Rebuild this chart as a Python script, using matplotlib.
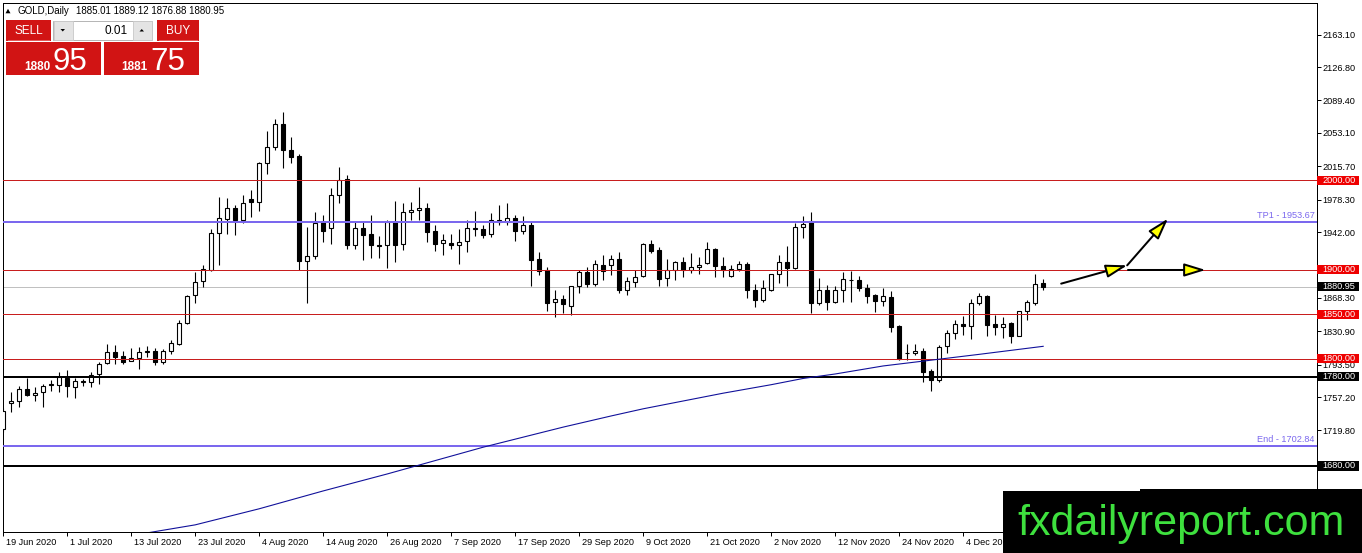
import matplotlib
matplotlib.use("Agg")
import numpy as np
import matplotlib.pyplot as plt
import matplotlib.transforms as mtrans
from matplotlib.patches import Rectangle, Polygon, FancyArrowPatch

plt.rcParams['font.family'] = ['Liberation Sans', 'DejaVu Sans']

# データ -------------------------
# GOLD daily, 19 Jun 2020 - 18 Dec 2020
opens = [1721, 1750, 1753, 1766, 1760, 1763, 1771, 1771, 1778, 1768,
         1774, 1774, 1783, 1795, 1807.5, 1803, 1797.5, 1801, 1808, 1809,
         1796, 1809, 1817, 1840, 1871, 1887, 1900, 1941, 1957, 1969,
         1955, 1979, 1976, 2019, 2037, 2063, 2034, 2027, 1910, 1915,
         1953, 1946, 1984, 2001, 1927, 1946, 1940, 1928, 1927, 1953,
         1929, 1964.5, 1967, 1969, 1943, 1930, 1930, 1928, 1932, 1945,
         1945, 1940, 1953, 1953, 1958, 1943, 1950, 1912, 1900, 1864,
         1867, 1859, 1881, 1897, 1884, 1905, 1905, 1912, 1877.5, 1886,
         1893, 1929, 1921.5, 1890, 1900, 1908, 1900, 1903, 1907, 1923,
         1904, 1892.5, 1901, 1906, 1877, 1866, 1877, 1895, 1908, 1902,
         1948, 1954, 1862, 1877, 1864, 1877, 1888, 1888, 1879, 1872,
         1865, 1869, 1837, 1806, 1806, 1809, 1786, 1776, 1814, 1829,
         1839.5, 1837, 1862, 1870, 1839, 1836, 1840.5, 1825.5, 1853, 1862,
         1885.01]
highs = [1745, 1763, 1770, 1778, 1768, 1772, 1776, 1785, 1788, 1778,
         1777, 1785, 1796, 1817, 1815, 1809, 1812, 1813, 1814, 1812,
         1811, 1821, 1843, 1871, 1897, 1905.5, 1945, 1981, 1980, 1972,
         1983, 1989, 2020, 2055, 2069, 2076, 2049, 2029, 1948, 1964.5,
         1961.5, 1991, 2015, 2006, 1953, 1953, 1961, 1938, 1955, 1976.5,
         1974, 1976, 1992, 1974, 1950, 1940, 1940, 1945, 1955, 1966,
         1950, 1963, 1972, 1974, 1961, 1960, 1954, 1920, 1903, 1877,
         1872, 1882, 1899, 1903, 1911, 1916, 1916, 1920, 1892, 1899,
         1930, 1933, 1925, 1912, 1910, 1914, 1918.5, 1914, 1931, 1924,
         1914, 1905, 1910, 1908, 1884, 1888, 1895.5, 1916, 1926, 1952,
         1960, 1965, 1890, 1883, 1882, 1897, 1898, 1893, 1884, 1873,
         1879, 1876, 1838, 1817, 1817, 1812, 1789, 1816, 1832, 1844,
         1847.5, 1867, 1874, 1871, 1849, 1847, 1841, 1854, 1866, 1895,
         1889.12]
lows = [1718, 1740, 1746, 1758, 1753, 1746, 1764, 1763, 1757, 1756,
        1770, 1768, 1772, 1794, 1794, 1794.5, 1797, 1789, 1802, 1793,
        1794.5, 1805, 1815, 1839, 1863, 1880, 1898, 1905, 1940, 1939,
        1952, 1959, 1966, 2007, 2034, 2014, 2019, 1900, 1862, 1912,
        1931, 1929, 1974, 1923, 1923, 1911, 1913, 1913, 1902, 1908,
        1921.5, 1955, 1956, 1931, 1921, 1916, 1923, 1906, 1920, 1938,
        1935, 1936, 1950, 1950, 1932, 1940, 1881, 1893.5, 1854, 1847,
        1851, 1849, 1874, 1880, 1882, 1888, 1893.5, 1874, 1872, 1880,
        1892, 1918, 1882, 1881, 1888, 1892, 1896, 1895, 1906, 1892,
        1892, 1892, 1898, 1868.5, 1858, 1863.5, 1876, 1885, 1881.5, 1901,
        1935, 1851, 1860, 1855, 1862, 1864, 1864, 1876, 1863, 1852,
        1859, 1830, 1799, 1799, 1804, 1774, 1763.5, 1774, 1807, 1822,
        1827, 1822, 1860, 1825, 1827, 1823, 1818, 1825, 1844, 1860,
        1876.88]
closes = [1742, 1753, 1766, 1760, 1762, 1770, 1772, 1779.5, 1770, 1775,
          1775, 1782, 1794.5, 1807.5, 1802, 1796, 1801, 1808, 1809, 1796,
          1809, 1818, 1840, 1870, 1886, 1901, 1941, 1958, 1969, 1955,
          1974, 1976, 2019, 2037, 2063, 2034, 2026, 1910, 1915, 1952.6,
          1943, 1984, 2000, 1927, 1946, 1939, 1927, 1926, 1953, 1927,
          1964, 1967, 1969, 1942, 1929, 1933, 1928, 1931, 1946, 1946,
          1939, 1956, 1956, 1958, 1943, 1950, 1911, 1898, 1862.5, 1867,
          1861, 1881, 1897, 1884, 1906, 1898, 1912, 1877, 1887, 1892,
          1929, 1921, 1889, 1900, 1908, 1899, 1903, 1905.5, 1923, 1904,
          1900, 1901, 1906.6, 1877, 1866, 1879, 1895, 1908, 1902, 1948,
          1951, 1862, 1877, 1864, 1877, 1889, 1888.5, 1879, 1870, 1865,
          1870, 1836, 1800, 1807, 1809, 1785, 1776, 1813, 1829, 1839,
          1837, 1862, 1870, 1837.5, 1836, 1839, 1825.5, 1853, 1864, 1884,
          1880.95]

# 移動平均線
ma_bars = [18, 24, 32, 40, 48, 52, 56, 60, 64, 70, 76, 80, 86, 90, 96,
           100, 104, 110, 116, 122, 130]
ma_values = [1605, 1614, 1632, 1652, 1671, 1681, 1691, 1701, 1710, 1723.5,
             1736, 1744, 1754.5, 1761.5, 1771, 1778, 1783, 1792, 1798.5, 1805, 1814]

# 日付ラベル (16 Dec はロゴの下に隠れている)
date_bars = list(range(0, 121, 8))
date_labels = ['19 Jun 2020', '1 Jul 2020', '13 Jul 2020', '23 Jul 2020',
               '4 Aug 2020', '14 Aug 2020', '26 Aug 2020', '7 Sep 2020',
               '17 Sep 2020', '29 Sep 2020', '9 Oct 2020', '21 Oct 2020',
               '2 Nov 2020', '12 Nov 2020', '24 Nov 2020', '4 Dec 2020']

price_ticks = [2163.10, 2126.80, 2089.40, 2053.10, 2015.70, 1978.30, 1942.00,
               1905.60, 1868.30, 1830.90, 1793.50, 1757.20, 1719.80, 1682.40,
               1645.10]
hidden_ticks = [1905.60, 1682.40, 1645.10]  # 色付きボックス/ロゴの下

red_levels = [2000, 1900, 1850, 1800]
black_levels = [1780, 1680]
tp_level = 1953.67
end_level = 1702.84
bid = 1880.95

# 矢印 (bar, price)
arrow_up_start = (132.25, 1884.2)
arrow_up_mid = (140.5, 1904.7)
arrow_up_end = (145.6, 1957.0)
arrow_flat_start = (140.6, 1899.5)
arrow_flat_end = (150.3, 1899.5)

# グラフ化 -------------------------
W, H = 1362, 553
fig = plt.figure(figsize=(W / 100, H / 100), dpi=100)
ax = fig.add_axes([2.7 / W, 21 / H, 1314 / W, 529.3 / H])
ax.set_xlim(-0.06, 164.19)
ax.set_ylim(1606.0, 2198.9)

px = 0.72  # 1 pixel in points

x = np.arange(len(opens))
o = np.array(opens)
c = np.array(closes)
up = c >= o
lo = np.minimum(o, c)
hgt = np.abs(c - o)
ax.vlines(x, lows, highs, color='black', lw=px * 1.1, zorder=3)
ax.bar(x[up], hgt[up], width=0.5, bottom=lo[up], facecolor='white',
       edgecolor='black', lw=px * 1.1, zorder=4)
ax.bar(x[~up], hgt[~up], width=0.5, bottom=lo[~up], facecolor='black',
       edgecolor='black', lw=px * 1.1, zorder=4)

# 水平線
red_line = '#c81e1e'
slate = '#7b68ee'
for lv in red_levels:
    ax.axhline(lv, color=red_line, lw=px, zorder=5)
for lv in black_levels:
    ax.axhline(lv, color='black', lw=px * 2, zorder=5)
ax.axhline(tp_level, color=slate, lw=px * 2, zorder=5)
ax.axhline(end_level, color=slate, lw=px * 2, zorder=5)
ax.axhline(bid, color='#c0c0c0', lw=px, zorder=2)

ax.plot(ma_bars, ma_values, color='#10109a', lw=px * 1.1, zorder=6)

blend = mtrans.blended_transform_factory(ax.transAxes, ax.transData)
for lv, name in [(tp_level, 'TP1'), (end_level, 'End')]:
    ax.text(0.9985, lv + 1.5, f'{name} - {lv:.2f}', transform=blend,
            ha='right', va='bottom', fontsize=6.6, color=slate, zorder=7)

# 矢印
def arrow(p0, p1):
    a = FancyArrowPatch(p0, p1, arrowstyle='-|>,head_length=0.65,head_width=0.2',
                        mutation_scale=20, facecolor='#ffff00',
                        edgecolor='black', lw=px * 2, shrinkA=0, shrinkB=0,
                        zorder=8, clip_on=False)
    ax.add_patch(a)

arrow(arrow_up_start, arrow_up_mid)
arrow(arrow_up_mid, arrow_up_end)
arrow(arrow_flat_start, arrow_flat_end)

# 軸
for s in ax.spines.values():
    s.set_linewidth(px)
    s.set_color('black')
ax.yaxis.tick_right()
ax.set_yticks(price_ticks)
ax.set_yticklabels(['' if t in hidden_ticks else f'{t:.2f}' for t in price_ticks])
ax.tick_params(axis='y', length=2.6, width=px, pad=1.6, labelsize=6.6,
               colors='black')
ax.set_xticks(list(range(0, 129, 8)))
ax.tick_params(axis='x', length=2.6, width=px, labelbottom=False)
dtrans = mtrans.blended_transform_factory(ax.transData, ax.transAxes)
dtrans = mtrans.offset_copy(dtrans, fig=fig, x=3, y=-13, units='dots')
for b, lab in zip(date_bars, date_labels):
    ax.text(b, 0, lab, transform=dtrans, ha='left', va='baseline',
            fontsize=6.6, color='black', clip_on=False)

# 価格ラベル (右側の色付きボックス)
boxes = [(lv, '#ee0000') for lv in red_levels] + \
        [(lv, 'black') for lv in black_levels] + [(bid, 'black')]
for lv, col in boxes:
    ax.add_patch(Rectangle((1.0004, lv - 5.2), 0.0315, 10.4, transform=blend,
                           facecolor=col, edgecolor='none', clip_on=False,
                           zorder=10))
    ax.text(1.0042, lv, f'{lv:.2f}', transform=blend, ha='left', va='center',
            fontsize=6.6, color='white', clip_on=False, zorder=11)

# オーバーレイ (パネル・ヘッダー・ロゴ)
ov = fig.add_axes([0, 0, 1, 1])
ov.set_xlim(0, W)
ov.set_ylim(H, 0)
ov.axis('off')

ov.add_patch(Polygon([(5.5, 13.3), (10.5, 13.3), (8, 8.8)], closed=True,
                     facecolor='black', edgecolor='none'))
ov.text(18, 10.8, 'GOLD,Daily', fontsize=7, va='center', ha='left')
ov.text(76, 10.8, '1885.01 1889.12 1876.88 1880.95', fontsize=7,
        va='center', ha='left')

panel_red = '#d11414'
ov.add_patch(Rectangle((6, 20), 45, 21, facecolor=panel_red, edgecolor='none'))
ov.add_patch(Rectangle((157, 20), 42, 21, facecolor=panel_red, edgecolor='none'))
ov.add_patch(Rectangle((6, 42), 95, 33, facecolor=panel_red, edgecolor='none'))
ov.add_patch(Rectangle((104, 42), 95, 33, facecolor=panel_red, edgecolor='none'))
ov.plot([8, 49], [40.3, 40.3], color='#e86a6a', lw=0.6)
ov.plot([159, 197], [40.3, 40.3], color='#e86a6a', lw=0.6)
ov.text(28.5, 30.8, 'SELL', color='white', fontsize=8.5, ha='center', va='center')
ov.text(178, 30.8, 'BUY', color='white', fontsize=8.5, ha='center', va='center')

ov.add_patch(Rectangle((53, 20.5), 99, 19.5, facecolor='white',
                       edgecolor='#b4b4b4', lw=0.7))
ov.add_patch(Rectangle((53.5, 21), 19, 18.5, facecolor='#e4e4e4',
                       edgecolor='#c8c8c8', lw=0.6))
ov.add_patch(Rectangle((132.5, 21), 19, 18.5, facecolor='#e4e4e4',
                       edgecolor='#c8c8c8', lw=0.6))
ov.add_patch(Polygon([(60.5, 29), (65, 29), (62.75, 31.5)], closed=True,
                     facecolor='black', edgecolor='none'))
ov.add_patch(Polygon([(139.5, 31.5), (144, 31.5), (141.75, 29)], closed=True,
                     facecolor='black', edgecolor='none'))
ov.text(128, 30.8, '0.01', fontsize=8.5, ha='right', va='center', color='black')

ov.text(24, 70.5, '1880', color='white', fontsize=8.5, fontweight='bold',
        ha='left', va='baseline')
ov.text(52, 70.5, '95', color='white', fontsize=22.5, ha='left', va='baseline')
ov.text(121, 70.5, '1881', color='white', fontsize=8.5, fontweight='bold',
        ha='left', va='baseline')
ov.text(150, 70.5, '75', color='white', fontsize=22.5, ha='left', va='baseline')

ov.add_patch(Rectangle((1003, 491), W - 1003, H - 491, facecolor='black',
                       edgecolor='none'))
ov.add_patch(Rectangle((1140, 489), W - 1140, 3, facecolor='black',
                       edgecolor='none'))
ov.text(1017, 535, 'fxdailyreport.com', color='#3ee03e', fontsize=31,
        ha='left', va='baseline')

fig.savefig('out.png', dpi=100, facecolor='white')
